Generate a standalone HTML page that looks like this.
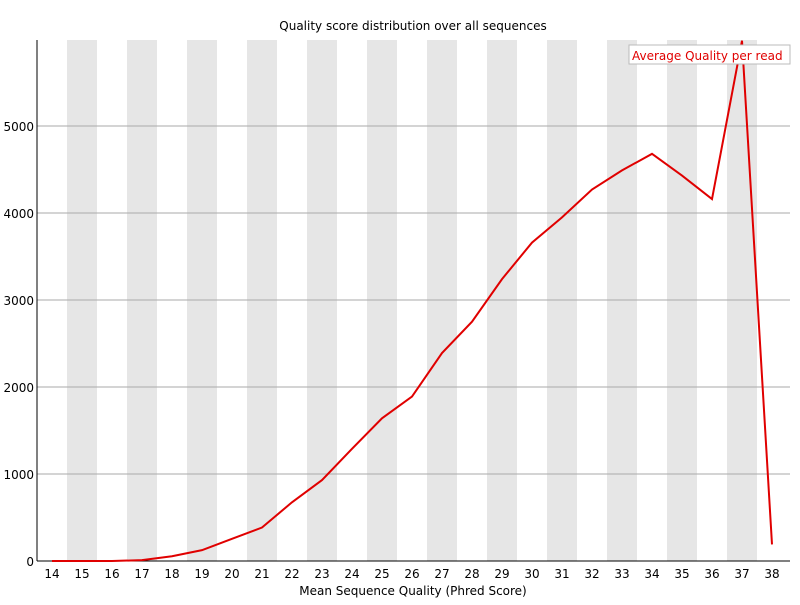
<!DOCTYPE html>
<html><head><meta charset="utf-8"><style>
body{margin:0;background:#fff}
svg text{font-family:"DejaVu Sans","Liberation Sans",sans-serif;font-size:12px}
</style></head><body>
<svg id="chart" width="800" height="600" xmlns="http://www.w3.org/2000/svg">
<rect width="800" height="600" fill="#fff"/>
<g id="bands"></g><g id="grid"></g><g id="xt"></g><g id="yt"></g>
<line x1="37" y1="40" x2="37" y2="561" stroke="#000"/>
<line x1="37" y1="561" x2="790" y2="561" stroke="#000"/>
<path id="line" fill="none" stroke="#e00000" stroke-width="2"/>
<text x="413" y="30" text-anchor="middle">Quality score distribution over all sequences</text>
<text x="413" y="595" text-anchor="middle">Mean Sequence Quality (Phred Score)</text>
<rect x="629" y="45" width="161" height="19" fill="#fff" stroke="#bbb"/>
<text x="632" y="60" fill="#e00000">Average Quality per read</text>
</svg>
<script>
const categories=[14,15,16,17,18,19,20,21,22,23,24,25,26,27,28,29,30,31,32,33,34,35,36,37,38];
const values=[0,0,0,10,55,125,255,385,675,930,1290,1640,1890,2390,2750,3240,3660,3950,4270,4490,4680,4430,4160,5980,190];
const yTicks=[0,1000,2000,3000,4000,5000];
const NS="http://www.w3.org/2000/svg";
const x0=37,bw=30,yBase=561,yScale=0.087;
const X=i=>x0+bw*i+bw/2, Y=v=>yBase-v*yScale;
function mk(t,a,p){const e=document.createElementNS(NS,t);for(const k in a)e.setAttribute(k,a[k]);document.getElementById(p).appendChild(e);return e;}
categories.forEach((c,i)=>{
  if(i%2===1){const r=mk('rect',{x:x0+bw*i,y:40,width:bw,height:521,fill:'#e6e6e6'},'bands');
    
    }
  const t=mk('text',{x:X(i),y:578,'text-anchor':'middle'},'xt');t.textContent=c;
  
  
});
yTicks.forEach(v=>{
  if(v>0){const l=mk('line',{x1:x0,x2:790,y1:Y(v),y2:Y(v),stroke:'#aaa'},'grid');
    
    }
  const t=mk('text',{x:34,y:Y(v)+5,'text-anchor':'end'},'yt');t.textContent=v;
  
  
});
document.getElementById('line').setAttribute('d',values.map((v,i)=>(i?'L':'M')+X(i)+','+Y(v)).join(''));
</script>
</body></html>
